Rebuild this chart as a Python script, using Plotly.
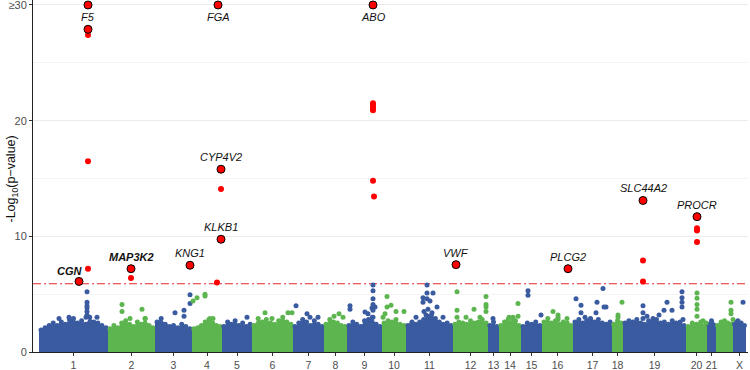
import plotly.graph_objects as go

# ---------------- data ----------------
chrom_names = [str(i) for i in range(1, 23)] + ["X"]
chrom_lengths = [69, 47, 37, 30, 30, 41, 31, 23, 35, 24, 47, 35, 11, 22, 21, 31, 39, 11, 63, 21, 9, 17, 13]
tick_chroms = [c for c in chrom_names if c != "22"]

# upper edge of the dense cloud of SNPs, per chromosome (-log10 p), read left to right
mass_top = [
    [1.9, 2.1, 2.3, 2.5, 2.3, 2.6, 2.4, 2.8, 2.9, 2.5, 2.7, 2.4, 3.0, 2.6, 2.5, 2.3, 2.1],
    [2.0, 2.3, 2.1, 2.5, 2.7, 2.4, 2.2, 2.6, 2.4, 2.9, 2.3, 2.1],
    [2.6, 2.9, 2.4, 2.2, 2.3, 2.1, 2.4, 2.2, 2.0],
    [2.0, 2.1, 2.3, 2.6, 2.8, 2.5, 2.3, 2.2],
    [2.2, 2.6, 2.4, 2.7, 2.3, 2.5, 2.2, 2.4],
    [2.3, 2.9, 2.6, 2.8, 2.5, 2.4, 2.7, 3.0, 2.6, 2.4],
    [2.2, 2.5, 2.8, 2.6, 2.3, 2.7, 2.4, 2.2],
    [2.4, 2.8, 2.6, 2.5, 2.3, 2.2],
    [2.3, 2.6, 2.4, 2.2, 2.7, 2.8, 3.0, 2.4, 2.2],
    [2.5, 2.7, 2.6, 2.8, 2.4, 2.3],
    [2.3, 2.5, 2.4, 2.6, 2.8, 3.1, 3.2, 2.9, 2.6, 2.4, 2.5, 2.3],
    [2.4, 2.6, 2.5, 2.4, 2.7, 2.5, 2.6, 2.8, 2.5],
    [2.3, 2.6, 2.2],
    [2.3, 2.6, 2.8, 2.5, 2.7, 2.3],
    [2.2, 2.5, 2.4, 2.6, 2.3],
    [2.6, 2.9, 2.5, 2.7, 2.4, 2.6, 2.5, 2.3],
    [2.6, 2.8, 2.5, 2.7, 2.9, 2.6, 2.8, 2.5, 2.4, 2.6],
    [2.4, 2.7, 2.5],
    [2.5, 2.7, 2.6, 2.8, 2.5, 2.4, 2.7, 2.6, 2.8, 2.5, 2.6, 2.4, 2.7, 2.5, 2.6, 2.3],
    [2.2, 2.5, 2.4, 2.6, 2.3],
    [2.4, 2.7, 2.3],
    [2.3, 2.6, 2.7, 2.5, 2.4],
    [2.4, 2.7, 2.5, 2.3],
]

# sub-threshold SNPs standing out above the cloud: chromosome, position in chromosome, -log10 p
bg_chrom = (["1"] * 10 + ["2"] * 5 + ["3"] * 5 + ["4"] * 6 + ["5"] * 1 + ["6"] * 4 + ["7"] * 4
            + ["8"] * 3 + ["9"] * 12 + ["10"] * 7 + ["11"] * 15 + ["12"] * 10 + ["13"] * 1
            + ["14"] * 5 + ["15"] * 3 + ["16"] * 5 + ["17"] * 10 + ["18"] * 3 + ["19"] * 14
            + ["20"] * 7 + ["21"] * 1 + ["22"] * 5 + ["X"] * 2)
bg_pos = ([48, 48, 48, 48, 48, 48, 47, 30, 20, 58]
          + [14, 14, 34, 37, 22]
          + [20, 29, 29, 35, 35]
          + [1, 5, 13, 13, 18, 21]
          + [25]
          + [13, 20, 36, 40]
          + [3, 17, 25, 14]
          + [15, 19, 10]
          + [3, 3, 18, 21, 26, 26, 26, 26, 26, 26, 25, 28]
          + [5, 9, 14, 5, 3, 22, 1]
          + [17, 21, 21, 24, 27, 17, 21, 31, 18, 22, 20, 26, 37, 6, 10]
          + [4, 4, 4, 21, 27, 33, 33, 33, 33, 13]
          + [5]
          + [19, 19, 10, 14, 14]
          + [7, 7, 20]
          + [11, 16, 16, 16, 25]
          + [3, 8, 8, 24, 30, 31, 23, 33, 17, 12]
          + [10, 6, 6]
          + [20, 20, 20, 41, 44, 49, 59, 59, 59, 59, 60, 30, 24, 36]
          + [11, 11, 11, 11, 11, 17, 20]
          + [5]
          + [15, 15, 15, 17, 9]
          + [10, 4])
bg_val = ([5.2, 4.3, 4.0, 3.8, 3.5, 3.2, 3.0, 3.0, 2.9, 3.0]
          + [4.1, 3.5, 3.7, 2.9, 2.9]
          + [3.4, 3.6, 3.1, 4.95, 4.2]
          + [4.4, 4.7, 5.0, 4.85, 2.9, 2.9]
          + [3.0]
          + [3.4, 2.9, 3.4, 3.4]
          + [4.0, 3.0, 3.0, 3.3]
          + [3.3, 3.0, 3.1]
          + [4.0, 3.7, 3.45, 3.3, 5.8, 5.3, 4.6, 4.1, 3.6, 3.0, 3.8, 3.9]
          + [4.8, 4.05, 3.5, 3.9, 3.3, 3.5, 3.0]
          + [4.7, 5.8, 5.1, 4.4, 5.1, 4.3, 4.6, 3.9, 3.5, 3.7, 3.2, 3.4, 3.0, 2.6, 3.0]
          + [5.2, 3.6, 3.0, 3.7, 3.0, 4.8, 4.1, 3.9, 3.5, 3.0]
          + [2.9]
          + [4.2, 3.1, 3.0, 3.0, 2.7]
          + [5.3, 4.9, 3.2]
          + [3.5, 3.2, 2.8, 3.0, 2.9]
          + [4.6, 4.05, 3.4, 4.3, 5.5, 3.9, 3.4, 3.9, 2.8, 3.0]
          + [4.3, 3.0, 3.2]
          + [4.0, 3.4, 2.9, 3.6, 4.3, 3.6, 5.2, 4.7, 4.3, 3.9, 2.8, 2.9, 3.1, 3.2]
          + [5.1, 4.65, 4.1, 3.7, 3.1, 2.7, 2.5]
          + [2.5]
          + [4.3, 3.6, 3.3, 2.8, 2.6]
          + [4.3, 2.6])

# genome-wide significant SNPs (values above 30 are capped at 30)
hit_chrom = ["1", "1", "1", "1", "1", "1", "2", "2", "3", "4", "4", "4", "4", "4",
             "9", "9", "9", "9", "9", "9", "9", "12", "16", "19", "19", "19", "20", "20", "20", "20"]
hit_pos = [40, 49, 49, 49, 49, 49, 23, 23, 35, 26, 29, 25, 29, 29,
           26, 26, 26, 26, 26, 26, 27, 3, 26, 20, 20, 20, 11, 11, 11, 11]
hit_val = [6.1, 7.2, 30, 27.9, 27.4, 16.5, 7.2, 6.4, 7.5, 30, 9.75, 6.0, 15.8, 14.1,
           30, 21.5, 21.3, 21.1, 20.9, 14.8, 13.45, 7.55, 7.2, 13.1, 7.9, 6.1, 11.7, 10.7, 10.5, 9.5]
hit_gene = ["CGN", "", "F5", "", "", "", "MAP3K2", "", "KNG1", "FGA", "KLKB1", "", "CYP4V2", "",
            "ABO", "", "", "", "", "", "", "VWF", "PLCG2", "SLC44A2", "", "", "PROCR", "", "", ""]
hit_lead = [g != "" or v == 27.9 for g, v in zip(hit_gene, hit_val)]
novel_genes = ["CGN", "MAP3K2"]
threshold = 5.9

y_tickvals = [0, 10, 20, 30]
y_ticktext = ["0", "10", "20", "≥30"]

# ---------------- style ----------------
BLUE = "#3A5BA0"
GREEN = "#5DB550"
RED = "#FF0000"
FONT = "Liberation Sans, Arial, sans-serif"
label_shift = {"F5": (0, -12), "FGA": (0, -12), "ABO": (0, -12), "CGN": (-9, 10)}

starts = {}
s = 0
for name, L in zip(chrom_names, chrom_lengths):
    starts[name] = s
    s += L
total = s
chrom_color = {name: (BLUE if i % 2 == 0 else GREEN) for i, name in enumerate(chrom_names)}

fig = go.Figure()

# dense cloud
for name, L, top in zip(chrom_names, chrom_lengths, mass_top):
    st = starts[name]
    n = len(top)
    xs = [st + L * (k + 0.5) / n for k in range(n)]
    px = [st, st] + xs + [st + L, st + L]
    py = [0, top[0]] + top + [top[-1], 0]
    fig.add_trace(go.Scatter(x=px, y=py, mode="none", fill="toself",
                             fillcolor=chrom_color[name], hoverinfo="skip", showlegend=False))
    fig.add_trace(go.Scatter(x=xs, y=top, mode="markers",
                             marker=dict(size=5, color=chrom_color[name]),
                             hoverinfo="skip", showlegend=False))

# standout sub-threshold SNPs
bx = [starts[c] + p for c, p in zip(bg_chrom, bg_pos)]
bcol = [chrom_color[c] for c in bg_chrom]
fig.add_trace(go.Scatter(x=bx, y=bg_val, mode="markers",
                         marker=dict(size=5, color=bcol), showlegend=False))

# significant SNPs
hx = [starts[c] + p for c, p in zip(hit_chrom, hit_pos)]
px_plain = [x for x, l in zip(hx, hit_lead) if not l]
py_plain = [v for v, l in zip(hit_val, hit_lead) if not l]
px_lead = [x for x, l in zip(hx, hit_lead) if l]
py_lead = [v for v, l in zip(hit_val, hit_lead) if l]
fig.add_trace(go.Scatter(x=px_plain, y=py_plain, mode="markers",
                         marker=dict(size=6, color=RED), showlegend=False))
fig.add_trace(go.Scatter(x=px_lead, y=py_lead, mode="markers",
                         marker=dict(size=8, color=RED, line=dict(color="black", width=1)),
                         showlegend=False, cliponaxis=False))

# threshold
fig.add_shape(type="line", xref="paper", x0=0, x1=1, yref="y", y0=threshold, y1=threshold,
              line=dict(color="#E8262A", width=1.2, dash="8px,3px,2px,3px"), layer="between")

# gene labels
for x, v, g in zip(hx, hit_val, hit_gene):
    if not g:
        continue
    dx, dy = label_shift.get(g, (0, 12))
    txt = f"<b><i>{g}</i></b>" if g in novel_genes else f"<i>{g}</i>"
    fig.add_annotation(x=x, y=v, text=txt, showarrow=False, xshift=dx, yshift=dy,
                       font=dict(family=FONT, size=11, color="#111111"))

# y axis title
fig.add_annotation(xref="paper", yref="paper", x=-21 / 715, y=0.49, text="-Log<sub>10</sub>(p−value)",
                   textangle=-90, showarrow=False, xanchor="center", yanchor="middle",
                   font=dict(family=FONT, size=12.5, color="#111111"))

centers = [starts[c] + chrom_lengths[chrom_names.index(c)] / 2 for c in tick_chroms]

fig.update_layout(
    template="none",
    width=750, height=370,
    margin=dict(l=33, r=2, t=0, b=18, pad=0),
    plot_bgcolor="white", paper_bgcolor="white",
    font=dict(family=FONT, size=11, color="#4D4D4D"),
    xaxis=dict(range=[-6, total + 2], tickvals=centers, ticktext=tick_chroms,
               showgrid=False, zeroline=False, showline=True, linecolor="#222222", linewidth=1,
               ticks="outside", ticklen=3, tickcolor="#333333", automargin=False,
               tickfont=dict(size=10.5, color="#4D4D4D")),
    yaxis=dict(range=[0, 30.43], tickvals=y_tickvals, ticktext=y_ticktext,
               showgrid=True, gridcolor="#EBEBEB", gridwidth=1, zeroline=False,
               showline=True, linecolor="#222222", linewidth=1,
               ticks="outside", ticklen=3, tickcolor="#333333", automargin=False,
               ticklabeloverflow="allow",
               tickfont=dict(size=11, color="#4D4D4D"),
               minor=dict(tickvals=[5, 15, 25], showgrid=True, gridcolor="#F4F4F4", ticks="")),
    showlegend=False,
)

fig.write_html("out.html", config={"displayModeBar": False},
               post_script="document.body.style.margin='0';document.body.style.overflow='hidden';")
